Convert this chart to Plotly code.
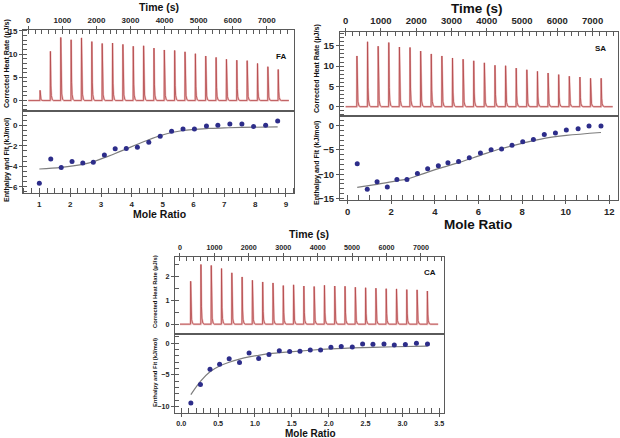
import plotly.graph_objects as go

W, H = 620, 438

# ---------------- DATA ----------------
panel_names = ["FA", "SA", "CA"]

# injection timing (s) and end of run (s)
inj_start = [345, 320, 310]
inj_interval = [304, 301, 299]
run_end = [7650, 7570, 7500]

# peak heights (µJ/s)
fa_peaks = [2.2, 10.6, 13.6, 13.1, 13.5, 12.7, 12.3, 12.4, 12.1, 11.7, 11.8, 11.3,
            10.9, 10.8, 10.5, 10.1, 9.6, 9.3, 8.9, 8.7, 8.6, 8.0, 7.3, 6.7]
sa_peaks = [12.5, 16.0, 14.9, 15.8, 14.7, 14.6, 13.7, 13.0, 12.5, 12.0, 11.7, 11.3,
            10.8, 10.2, 10.1, 9.5, 9.1, 8.7, 8.3, 7.9, 7.5, 7.3, 7.0, 7.0]
ca_peaks = [1.79, 2.49, 2.45, 2.32, 2.14, 1.97, 1.83, 1.76, 1.72, 1.61, 1.64, 1.59,
            1.57, 1.62, 1.59, 1.58, 1.54, 1.52, 1.50, 1.48, 1.47, 1.44, 1.43, 1.38]

# enthalpy points (kJ/mol) vs mole ratio
fa_ratio = [1.0, 1.37, 1.71, 2.06, 2.41, 2.75, 3.11, 3.46, 3.82, 4.18, 4.55, 4.92,
            5.29, 5.66, 6.03, 6.42, 6.79, 7.18, 7.57, 7.95, 8.34, 8.73]
fa_dh = [-5.65, -3.29, -4.1, -3.52, -3.68, -3.61, -2.9, -2.29, -2.26, -2.13, -1.65, -1.06,
         -0.58, -0.35, -0.35, -0.06, 0.0, 0.13, 0.13, -0.1, 0.0, 0.42]
sa_ratio = [0.44, 0.90, 1.35, 1.82, 2.26, 2.72, 3.20, 3.67, 4.16, 4.60, 5.09, 5.58,
            6.09, 6.58, 7.06, 7.54, 8.03, 8.52, 9.02, 9.53, 10.03, 10.57, 11.07, 11.62]
sa_dh = [-7.85, -13.1, -11.55, -12.6, -11.1, -11.1, -9.86, -8.85, -8.24, -7.64, -7.36, -6.62,
         -5.61, -4.93, -4.8, -4.05, -3.31, -2.84, -1.82, -1.49, -0.88, -0.61, -0.07, -0.07]
ca_ratio = [0.13, 0.26, 0.39, 0.52, 0.65, 0.79, 0.92, 1.05, 1.19, 1.33, 1.47, 1.61,
            1.75, 1.89, 2.03, 2.17, 2.32, 2.46, 2.60, 2.75, 2.89, 3.04, 3.19, 3.34]
ca_dh = [-9.42, -6.49, -4.08, -3.3, -2.46, -3.04, -1.52, -2.41, -1.78, -1.2, -1.31, -1.26,
         -1.05, -1.05, -0.63, -0.52, -0.58, -0.1, -0.16, -0.1, -0.26, -0.21, 0.0, -0.1]

# fitted curves
fa_fit_x = [1.0, 1.71, 2.41, 2.75, 3.11, 3.46, 3.82, 4.18, 4.55, 4.92, 5.29, 5.66, 6.03, 6.5, 7.0, 7.57, 8.73]
fa_fit_y = [-4.26, -4.1, -3.8, -3.55, -3.15, -2.75, -2.3, -1.85, -1.4, -1.0, -0.7, -0.5, -0.4, -0.3, -0.25, -0.2, -0.15]
sa_fit_x = [0.44, 1.35, 2.26, 2.72, 3.20, 4.16, 5.09, 6.09, 7.06, 8.03, 9.02, 10.03, 11.62]
sa_fit_y = [-12.7, -12.1, -11.35, -11.0, -10.3, -8.85, -7.6, -6.1, -4.7, -3.6, -2.6, -2.0, -1.4]
ca_fit_x = [0.13, 0.26, 0.39, 0.52, 0.65, 0.79, 0.92, 1.05, 1.19, 1.47, 1.75, 2.03, 2.46, 2.89, 3.34]
ca_fit_y = [-8.1, -6.0, -4.5, -3.6, -3.0, -2.5, -2.15, -1.9, -1.65, -1.35, -1.1, -0.9, -0.7, -0.55, -0.45]

# axis ranges / ticks
time_ranges = [[-156, 7800], [-160, 7720], [-145, 7670]]
heat_ranges = [[-2.25, 15.2], [-2.3, 18.4], [-0.41, 2.8]]
heat_dtick = [5, 5, 1]
heat_minor = [1, 1, 0.5]
dh_ranges = [[-6.6, 1.4], [-15.2, 2.0], [-11.0, 1.46]]
dh_dtick = [2, 5, 5]
dh_minor = [0.5, 1, 1]
ratio_ranges = [[0.47, 9.26], [-0.35, 12.4], [-0.085, 3.564]]
ratio_dtick = [1, 2, 0.5]
ratio_minor = [0.25, 0.5, 0.1]
ratio_tickformat = ["d", "d", ".1f"]

peaks_all = [fa_peaks, sa_peaks, ca_peaks]
ratio_all = [fa_ratio, sa_ratio, ca_ratio]
dh_all = [fa_dh, sa_dh, ca_dh]
fitx_all = [fa_fit_x, sa_fit_x, ca_fit_x]
fity_all = [fa_fit_y, sa_fit_y, ca_fit_y]

# ---------------- LAYOUT GEOMETRY (pixels) ----------------
# [left, right, top, middle, bottom]
boxes = [(23, 294, 30, 111, 193), (340, 618, 32, 116, 199.5), (175, 444, 257, 334, 413)]
tick_sizes = [8, 9.5, 7.2]
time_title_sizes = [10.5, 13.5, 10.5]
ratio_title_sizes = [10.5, 13.5, 10]
time_title_pos = [(159, 7), (477, 9), (309, 234)]
ratio_title_pos = [(159, 214), (478, 224.5), (310, 433.5)]
label_pos = [(281, 56), (600, 48), (430, 272)]
ytitle_x = [7, 317, 155]
ytitle_heat_y = [64, 68, 292]
ytitle_dh_y = [160, 162, 373]
ytitle_size = [7.1, 7.1, 5.8]


def fx(p):
    return p / W


def fy(p):
    return 1 - p / H


# peak shape (time offset s, fraction of height)
shape_dt = [-5, 0, 6, 14, 28, 55, 90]
shape_f = [0, 1, 0.7, 0.3, 0.1, 0.02, 0]

fig = go.Figure()
layout = dict(width=W, height=H, margin=dict(l=0, r=0, t=0, b=0, autoexpand=False),
              paper_bgcolor="white", plot_bgcolor="white", showlegend=False,
              annotations=[])

LINE = "#5a5a5a"
TXT = "#262626"
FONT = "Liberation Sans"

for i in range(3):
    na, nb = 2 * i + 1, 2 * i + 2
    l, r, t, m, b = boxes[i]
    ts = tick_sizes[i]
    # build thermogram from peaks
    tx, ty = [0], [0]
    for k, h in enumerate(peaks_all[i]):
        t0 = inj_start[i] + inj_interval[i] * k
        for d, f in zip(shape_dt, shape_f):
            tx.append(t0 + d)
            ty.append(h * f)
    tx.append(run_end[i])
    ty.append(0)
    xa, ya = ("x" if na == 1 else f"x{na}"), ("y" if na == 1 else f"y{na}")
    xb, yb = f"x{nb}", f"y{nb}"
    fig.add_trace(go.Scatter(x=tx, y=ty, mode="lines", xaxis=xa, yaxis=ya,
                             line=dict(color="#ecbcbc", width=2.0), hoverinfo="skip"))
    fig.add_trace(go.Scatter(x=tx, y=ty, mode="lines", xaxis=xa, yaxis=ya,
                             line=dict(color="#b4474a", width=0.8)))
    fig.add_trace(go.Scatter(x=fitx_all[i], y=fity_all[i], mode="lines", xaxis=xb, yaxis=yb,
                             line=dict(color="#7d7d7d", width=1.2, shape="spline")))
    fig.add_trace(go.Scatter(x=ratio_all[i], y=dh_all[i], mode="markers", xaxis=xb, yaxis=yb,
                             marker=dict(color="#2d2d8a", size=5)))

    common = dict(showline=True, linecolor=LINE, linewidth=1, mirror=True, showgrid=False,
                  zeroline=False, ticks="outside", ticklen=3, tickcolor=LINE, automargin=False,
                  tickfont=dict(family=FONT, size=ts, color=TXT, weight="bold"))
    sfx_a = "" if na == 1 else str(na)
    layout["xaxis" + sfx_a] = dict(common, domain=[fx(l), fx(r)], anchor=ya, side="top",
                                   range=time_ranges[i], dtick=1000, tick0=0,
                                   minor=dict(dtick=200, ticks="inside", ticklen=4, tickcolor=LINE))
    layout["yaxis" + sfx_a] = dict(common, domain=[fy(m), fy(t)], anchor=xa,
                                   range=heat_ranges[i], dtick=heat_dtick[i], tick0=0,
                                   minor=dict(dtick=heat_minor[i], ticks="inside", ticklen=4, tickcolor=LINE))
    layout["xaxis" + str(nb)] = dict(common, domain=[fx(l), fx(r)], anchor=yb, side="bottom",
                                     range=ratio_ranges[i], dtick=ratio_dtick[i], tick0=0,
                                     tickformat=ratio_tickformat[i],
                                     minor=dict(dtick=ratio_minor[i], ticks="inside", ticklen=5, tickcolor=LINE))
    layout["yaxis" + str(nb)] = dict(common, domain=[fy(b), fy(m)], anchor=xb,
                                     range=dh_ranges[i], dtick=dh_dtick[i], tick0=0,
                                     minor=dict(dtick=dh_minor[i], ticks="inside", ticklen=4, tickcolor=LINE))

    ann = layout["annotations"]
    ann.append(dict(text="Time (s)", x=fx(time_title_pos[i][0]), y=fy(time_title_pos[i][1]),
                    xref="paper", yref="paper", showarrow=False, xanchor="center", yanchor="middle",
                    font=dict(family=FONT, size=time_title_sizes[i], color="#111", weight="bold")))
    ann.append(dict(text="Mole Ratio", x=fx(ratio_title_pos[i][0]), y=fy(ratio_title_pos[i][1]),
                    xref="paper", yref="paper", showarrow=False, xanchor="center", yanchor="middle",
                    font=dict(family=FONT, size=ratio_title_sizes[i], color="#111", weight="bold")))
    ann.append(dict(text=panel_names[i], x=fx(label_pos[i][0]), y=fy(label_pos[i][1]),
                    xref="paper", yref="paper", showarrow=False, xanchor="center", yanchor="middle",
                    font=dict(family=FONT, size=8, color="#111", weight="bold")))
    ann.append(dict(text="Corrected Heat Rate (µJ/s)", x=fx(ytitle_x[i]), y=fy(ytitle_heat_y[i]),
                    xref="paper", yref="paper", showarrow=False, textangle=-90,
                    xanchor="center", yanchor="middle",
                    font=dict(family=FONT, size=ytitle_size[i], color="#111", weight="bold")))
    ann.append(dict(text="Enthalpy and Fit (kJ/mol)", x=fx(ytitle_x[i]), y=fy(ytitle_dh_y[i]),
                    xref="paper", yref="paper", showarrow=False, textangle=-90,
                    xanchor="center", yanchor="middle",
                    font=dict(family=FONT, size=ytitle_size[i], color="#111", weight="bold")))

fig.update_layout(**layout)
fig.write_html("out.html", config={"displayModeBar": False, "staticPlot": True},
               post_script="document.body.style.margin='0px';document.body.style.overflow='hidden';")
